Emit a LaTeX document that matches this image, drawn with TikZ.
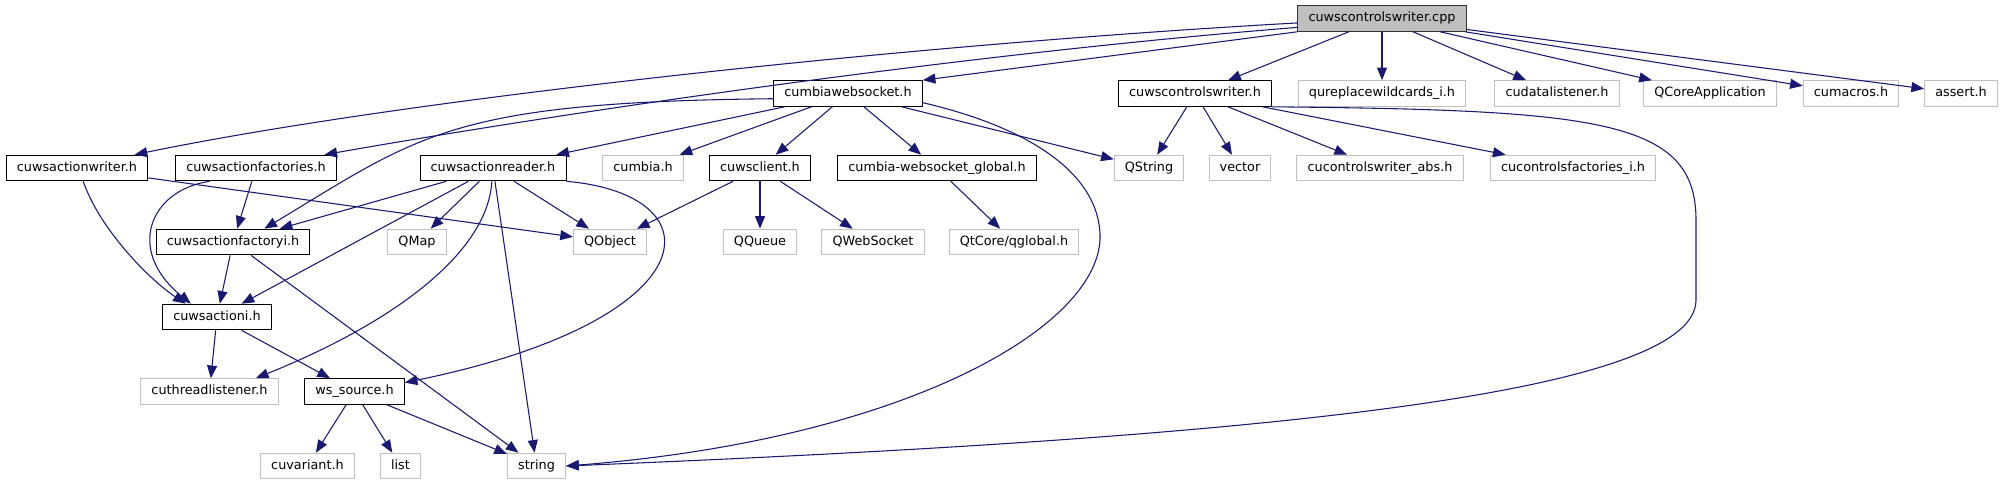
\documentclass[tikz,border=0pt]{standalone}
\usepackage{fontspec}
\setmainfont{DejaVu Sans}
\usepackage{tikz}
\usetikzlibrary{arrows.meta}

\definecolor{edgeblue}{HTML}{191970}
\definecolor{extgray}{HTML}{BFBFBF}

\begin{document}
\begin{tikzpicture}[x=0.75pt,y=-0.75pt,>={Triangle[length=9.5pt,width=7.5pt]},
  every node/.style={font=\fontsize{9.6}{11}\selectfont,inner xsep=8pt,inner ysep=0pt,
    minimum height=19.2pt,text height=7.2pt,text depth=2.2pt,line width=0.75pt},
  hdr/.style={draw=black,fill=white},
  ext/.style={draw=extgray,fill=white},
  dep/.style={->,draw=edgeblue,line width=0.8pt}]
\useasboundingbox (0,0) rectangle (2004,485);

% row 0
\node[hdr,fill=extgray,draw=black!80] (cpp) at (1382,18.5) {cuwscontrolswriter.cpp};
% row 1
\node[hdr] (wsock) at (848,93.5) {cumbiawebsocket.h};
\node[hdr] (cwh) at (1195,93.5) {cuwscontrolswriter.h};
\node[ext] (qrw) at (1382,93.5) {qureplacewildcards\_i.h};
\node[ext] (cdl) at (1557,93.5) {cudatalistener.h};
\node[ext] (qca) at (1710,93.5) {QCoreApplication};
\node[ext] (cmac) at (1851,93.5) {cumacros.h};
\node[ext] (asrt) at (1961,93.5) {assert.h};
% row 2
\node[hdr] (awr) at (77,168) {cuwsactionwriter.h};
\node[hdr] (afs) at (256,168) {cuwsactionfactories.h};
\node[hdr] (ard) at (493,168) {cuwsactionreader.h};
\node[ext] (cmb) at (643,168) {cumbia.h};
\node[hdr] (wcl) at (760,168) {cuwsclient.h};
\node[hdr] (wglob) at (937,168) {cumbia-websocket\_global.h};
\node[ext] (qstr) at (1149,168) {QString};
\node[ext] (vec) at (1240,168) {vector};
\node[ext] (cwabs) at (1380,168) {cucontrolswriter\_abs.h};
\node[ext] (cfac) at (1573,168) {cucontrolsfactories\_i.h};
% row 3
\node[hdr] (afi) at (233,242) {cuwsactionfactoryi.h};
\node[ext] (qmap) at (417,242) {QMap};
\node[ext] (qobj) at (610,242) {QObject};
\node[ext] (qque) at (760,242) {QQueue};
\node[ext] (qwsk) at (873,242) {QWebSocket};
\node[ext] (qglb) at (1014,242) {QtCore/qglobal.h};
% row 4
\node[hdr] (aif) at (217,317) {cuwsactioni.h};
% row 5
\node[ext] (thr) at (209.5,391.5) {cuthreadlistener.h};
\node[hdr] (wsrc) at (354.5,391.5) {ws\_source.h};
% row 6
\node[ext] (cvar) at (307.5,466) {cuvariant.h};
\node[ext] (lst) at (400.5,466) {list};
\node[ext] (str) at (536.5,466) {string};

% cuwscontrolswriter.cpp
\draw[dep] (cpp.183) .. controls (900,45) and (400,100) .. (awr.13);
\draw[dep] (cpp.186) .. controls (950,55) and (550,115) .. (afs.11);
\draw[dep] (cpp.south west) -- (wsock.north east);
\draw[dep] (cpp) -- (cwh);
\draw[dep] (cpp) -- (qrw);
\draw[dep] (cpp) -- (cdl);
\draw[dep] (cpp) -- (qca);
\draw[dep] (cpp) -- (cmac);
\draw[dep] (cpp) -- (asrt);

% cumbiawebsocket.h
\draw[dep] (wsock.184) .. controls (450,102) and (420,135) .. (afi.23);
\draw[dep] (wsock) -- (ard);
\draw[dep] (wsock) -- (cmb);
\draw[dep] (wsock) -- (wcl);
\draw[dep] (wsock) -- (wglob);
\draw[dep] (wsock) -- (qstr);
\draw[dep] (wsock.-7) .. controls (1040,130) and (1102,180) .. (1100,240)
  .. controls (1095,330) and (900,440) .. (str.east);

% cuwscontrolswriter.h
\draw[dep] (cwh) -- (qstr);
\draw[dep] (cwh) -- (vec);
\draw[dep] (cwh) -- (cwabs);
\draw[dep] (cwh) -- (cfac);
\draw[dep] (cwh.south east) .. controls (1600,110) and (1696,120) .. (1696,220) -- (1696,300)
  .. controls (1696,400) and (1200,440) .. (str.east);

% cuwsactionwriter.h, cuwsactionfactories.h
\draw[dep] (awr) -- (qobj);
\draw[dep] (awr.-65) .. controls (100,230) and (150,280) .. (aif.157);
\draw[dep] (afs) -- (afi);
\draw[dep] (afs.196) .. controls (150,190) and (125,250) .. (aif.153);

% cuwsactionreader.h
\draw[dep] (ard) -- (afi);
\draw[dep] (ard) -- (qmap);
\draw[dep] (ard) -- (qobj);
\draw[dep] (ard) -- (aif);
\draw[dep] (ard.-95) .. controls (488,250) and (400,320) .. (thr.16);
\draw[dep] (ard) -- (str);
\draw[dep] (ard.south east) .. controls (720,195) and (710,320) .. (wsrc.10);

% lower rows
\draw[dep] (afi) -- (aif);
\draw[dep] (afi) -- (str);
\draw[dep] (aif) -- (thr);
\draw[dep] (aif) -- (wsrc);
\draw[dep] (wsrc) -- (cvar);
\draw[dep] (wsrc) -- (lst);
\draw[dep] (wsrc) -- (str);
\draw[dep] (wcl) -- (qobj);
\draw[dep] (wcl) -- (qque);
\draw[dep] (wcl) -- (qwsk);
\draw[dep] (wglob) -- (qglb);
\end{tikzpicture}
\end{document}
